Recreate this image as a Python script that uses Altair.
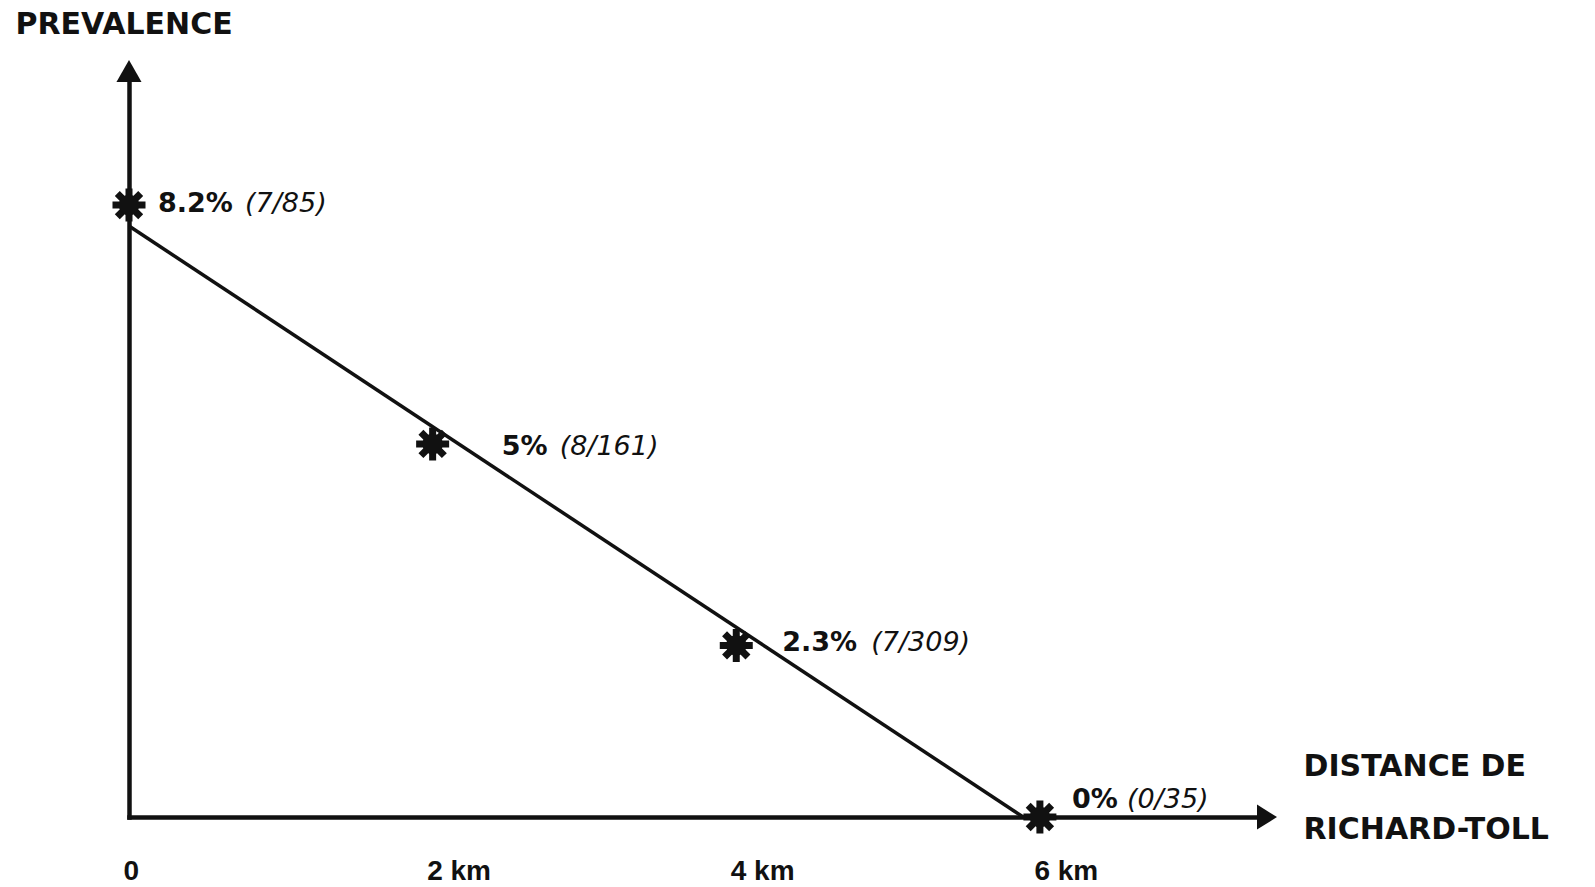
import altair as alt
import pandas as pd

# ---- data ----
distance_km = [0, 2, 4, 6]
prevalence_pct = [8.2, 5.0, 2.3, 0.0]
pct_labels = ["8.2%", "5%", "2.3%", "0%"]
count_labels = ["(7/85)", "(8/161)", "(7/309)", "(0/35)"]

trend_km = [0, 5.89]
trend_pct = [7.92, 0.0]

x_ticks = [0, 2, 4, 6]
x_tick_labels = ["0", "2 km", "4 km", "6 km"]

x_max = 7.43
y_max = 9.85

y_title = "PREVALENCE"
x_title = ["DISTANCE DE", "RICHARD-TOLL"]

# ---- tables ----
pts = pd.DataFrame({"i": range(4), "km": distance_km, "pct": prevalence_pct,
                    "plab": pct_labels, "clab": count_labels})
trend = pd.DataFrame({"km": trend_km, "pct": trend_pct})
arrow_up = pd.DataFrame({"km": [0], "pct": [y_max]})
arrow_right = pd.DataFrame({"km": [x_max], "pct": [0]})

# ---- styling ----
BLACK = "#111111"
TITLE_FONT = "DejaVu Sans"
LABEL_FONT = "Liberation Sans"

label_expr = " : ".join(
    f"datum.value == {v} ? '{t}'" for v, t in zip(x_ticks, x_tick_labels)
) + " : ''"

x_axis = alt.Axis(
    values=x_ticks, labelExpr=label_expr, grid=False, ticks=False, tickSize=0,
    domainColor=BLACK, domainWidth=4.5, domainCap="square",
    labelFont=LABEL_FONT, labelFontSize=28, labelFontWeight="bold", labelColor=BLACK,
    labelAlign="left", labelOffset=-6, labelBaseline="alphabetic", labelPadding=62,
    labelFlush=False,
    title=x_title, titleX=1174, titleY=-42, titleAlign="left", titleBaseline="alphabetic",
    titleAngle=0, titleFont=TITLE_FONT, titleFontSize=30, titleFontWeight="bold",
    titleColor=BLACK, titleLineHeight=63,
)
y_axis = alt.Axis(
    labels=False, ticks=False, tickSize=0, grid=False,
    domainColor=BLACK, domainWidth=4.5, domainCap="square",
    title=y_title, titleX=-114, titleY=-49, titleAlign="left", titleBaseline="alphabetic",
    titleAngle=0, titleFont=TITLE_FONT, titleFontSize=30, titleFontWeight="bold",
    titleColor=BLACK,
)
x_scale = alt.Scale(domain=[0, x_max], nice=False, zero=False)
y_scale = alt.Scale(domain=[0, y_max], nice=False, zero=False)


def X():
    return alt.X("km:Q", scale=x_scale, axis=x_axis)


def Y():
    return alt.Y("pct:Q", scale=y_scale, axis=y_axis)


trend_line = alt.Chart(trend).mark_line(color=BLACK, strokeWidth=3.5).encode(x=X(), y=Y())

ASTERISK = "M0,-1L0,1M-1,0L1,0M-0.71,-0.71L0.71,0.71M-0.71,0.71L0.71,-0.71"
star_spokes = alt.Chart(pts).mark_point(
    shape=ASTERISK, filled=False, size=1089, strokeWidth=7, color=BLACK, opacity=1
).encode(x=X(), y=Y())
star_core = alt.Chart(pts).mark_point(
    shape="circle", filled=True, size=420, color=BLACK, opacity=1
).encode(x=X(), y=Y())

arrow_u = alt.Chart(arrow_up).mark_point(
    shape="M0,-2L1.14,0L-1.14,0Z", filled=True, size=484, color=BLACK, opacity=1
).encode(x=X(), y=Y())
arrow_r = alt.Chart(arrow_right).mark_point(
    shape="M2,0L0,-1.25L0,1.25Z", filled=True, size=400, color=BLACK, opacity=1
).encode(x=X(), y=Y())

pct_dx = [29, 69, 46, 32]
cnt_dx = [116, 127, 135, 87]
lab_dy = [-1, 3, -2, -17]

label_layers = []
for i in range(4):
    base = alt.Chart(pts).transform_filter(alt.datum.i == i)
    label_layers.append(
        base.mark_text(align="left", baseline="middle", dx=pct_dx[i], dy=lab_dy[i],
                       font=TITLE_FONT, fontSize=27, fontWeight="bold", color=BLACK)
        .encode(x=X(), y=Y(), text="plab:N")
    )
    label_layers.append(
        base.mark_text(align="left", baseline="middle", dx=cnt_dx[i], dy=lab_dy[i],
                       font=TITLE_FONT, fontSize=27, fontStyle="italic", color=BLACK)
        .encode(x=X(), y=Y(), text="clab:N")
    )

chart = alt.layer(
    trend_line, star_spokes, star_core, arrow_u, arrow_r, *label_layers
).properties(
    width=1128, height=735,
    autosize=alt.AutoSizeParams(type="none"),
    padding={"left": 129, "top": 82, "right": 338, "bottom": 70},
    background="white",
).configure_view(stroke=None)

chart.save("out.html", embed_options={"renderer": "svg", "actions": False})
